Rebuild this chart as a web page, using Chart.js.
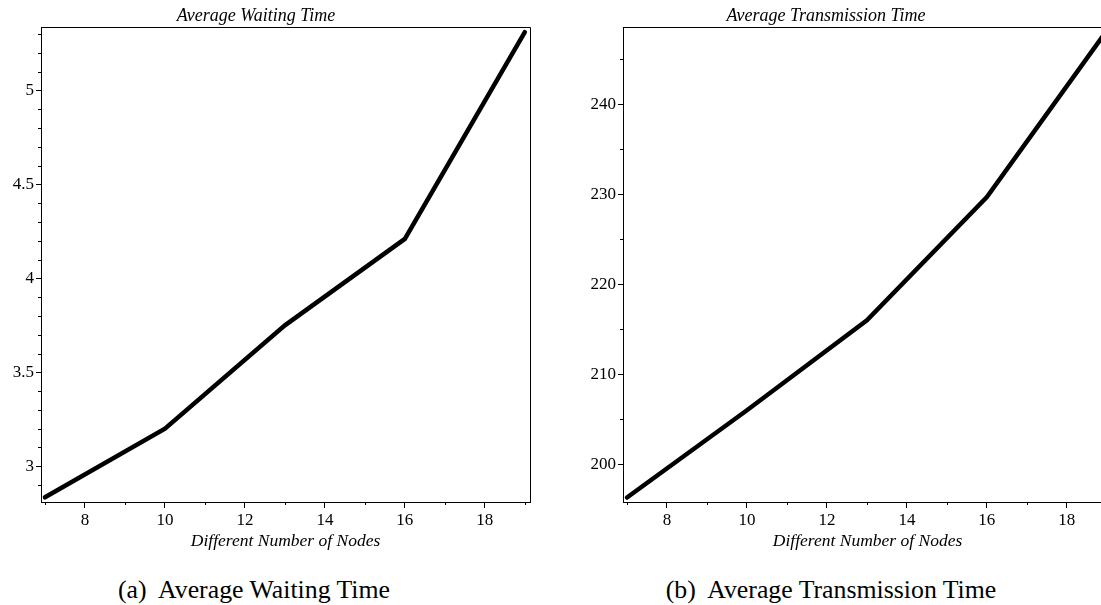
<!DOCTYPE html>
<html>
<head>
<meta charset="utf-8">
<script src="https://cdn.jsdelivr.net/npm/chart.js@4.4.1/dist/chart.umd.min.js"></script>
<style>
  html, body { margin: 0; padding: 0; background: #fff; overflow: hidden; }
  #page { position: relative; width: 1101px; height: 605px; overflow: hidden; background: #fff; }
  .plot { position: absolute; top: 0; width: 560px; height: 560px; }
  .txt { position: absolute; white-space: nowrap; line-height: 1; color: #000;
         font-family: "Liberation Serif", "Times New Roman", serif; transform: translateX(-50%); }
  .plotTitle { font-style: italic; font-size: 18px; top: 6px; }
  .caption { font-size: 25.8px; top: 577px; }
</style>
</head>
<body>
<div id="page">
  <div class="plot" style="left:0px"><canvas id="waitChart" width="560" height="560"></canvas></div>
  <div class="plot" style="left:582px"><canvas id="transChart" width="560" height="560"></canvas></div>

  <div class="txt plotTitle" style="left:256px">Average Waiting Time</div>
  <div class="txt plotTitle" style="left:826px">Average Transmission Time</div>
  <div class="txt caption" style="left:254px">(a)&nbsp; Average Waiting Time</div>
  <div class="txt caption" style="left:831px">(b)&nbsp; Average Transmission Time</div>
</div>

<script>
const nodes = [7, 10, 13, 16, 19]
const waitingTime = [2.835, 3.20, 3.75, 4.21, 5.31]
const transmissionTime = [196.3, 206.0, 216.0, 229.7, 248.2]

const xTicks = [8, 10, 12, 14, 16, 18]
const waitTicks = [3, 3.5, 4, 4.5, 5]
const transTicks = [200, 210, 220, 230, 240]

const serif = '"Liberation Serif", "Times New Roman", serif'

// short ticks between the labelled ones, plus the box top/right edges
const frameAndMinor = {
    id: 'frameAndMinor',
    afterDraw(chart, args, opts) {
        let c = chart.ctx
        let area = chart.chartArea
        let xs = chart.scales.x
        let ys = chart.scales.y
        c.save()
        c.strokeStyle = '#000'
        c.lineWidth = 1
        c.beginPath()
        c.moveTo(Math.round(area.left) + 0.5, Math.round(area.top) + 0.5)
        c.lineTo(Math.round(area.right) + 0.5, Math.round(area.top) + 0.5)
        c.lineTo(Math.round(area.right) + 0.5, Math.round(area.bottom) + 0.5)
        c.stroke()

        c.beginPath()
        for (let v = Math.ceil(xs.min); v <= xs.max; v++) {
            if (xTicks.includes(v)) continue
            let px = Math.round(xs.getPixelForValue(v)) + 0.5
            c.moveTo(px, area.bottom)
            c.lineTo(px, area.bottom + 3)
        }
        let step = opts.minorStep
        for (let v = Math.ceil(ys.min / step) * step; v <= ys.max; v += step) {
            let val = Math.round(v * 1000) / 1000
            if (opts.major.includes(val)) continue
            let py = Math.round(ys.getPixelForValue(val)) + 0.5
            c.moveTo(area.left, py)
            c.lineTo(area.left - 3, py)
        }
        c.stroke()
        c.restore()
    }
}

function makeChart(id, values, yMin, yMax, yMajor, yMinorStep) {
    let ctx = document.querySelector('#' + id).getContext('2d')
    return new Chart(ctx, {
        type: 'line',
        data: {
            datasets: [{
                data: nodes.map((n, i) => ({x: n, y: values[i]})),
                borderColor: '#000',
                borderWidth: 4.5,
                borderCapStyle: 'round',
                borderJoinStyle: 'miter',
                pointRadius: 0,
                tension: 0
            }]
        },
        options: {
            responsive: false,
            animation: false,
            events: [],
            layout: {padding: {top: 27, right: 30, bottom: 8, left: 0}},
            plugins: {
                legend: {display: false},
                tooltip: {enabled: false},
                frameAndMinor: {major: yMajor, minorStep: yMinorStep}
            },
            scales: {
                x: {
                    type: 'linear',
                    min: 6.9,
                    max: 19.13,
                    afterBuildTicks: (s) => { s.ticks = xTicks.map(v => ({value: v})) },
                    afterFit: (s) => { s.height = 50 },
                    grid: {drawOnChartArea: false, color: '#000', tickLength: 6},
                    border: {color: '#000', width: 1},
                    ticks: {color: '#000', font: {family: serif, size: 17}, padding: 2, maxRotation: 0,
                            callback: (v) => String(v)},
                    title: {
                        display: true,
                        text: 'Different Number of Nodes',
                        color: '#000',
                        font: {family: serif, size: 17.5, style: 'italic'},
                        padding: 0
                    }
                },
                y: {
                    type: 'linear',
                    min: yMin,
                    max: yMax,
                    afterBuildTicks: (s) => { s.ticks = yMajor.map(v => ({value: v})) },
                    afterFit: (s) => { s.width = 41 },
                    grid: {drawOnChartArea: false, color: '#000', tickLength: 5},
                    border: {color: '#000', width: 1},
                    ticks: {color: '#000', font: {family: serif, size: 17}, padding: 2,
                            callback: (v) => String(v)}
                }
            }
        },
        plugins: [frameAndMinor]
    })
}

makeChart('waitChart', waitingTime, 2.81, 5.337, waitTicks, 0.1)
makeChart('transChart', transmissionTime, 195.8, 248.6, transTicks, 5)
</script>
</body>
</html>
